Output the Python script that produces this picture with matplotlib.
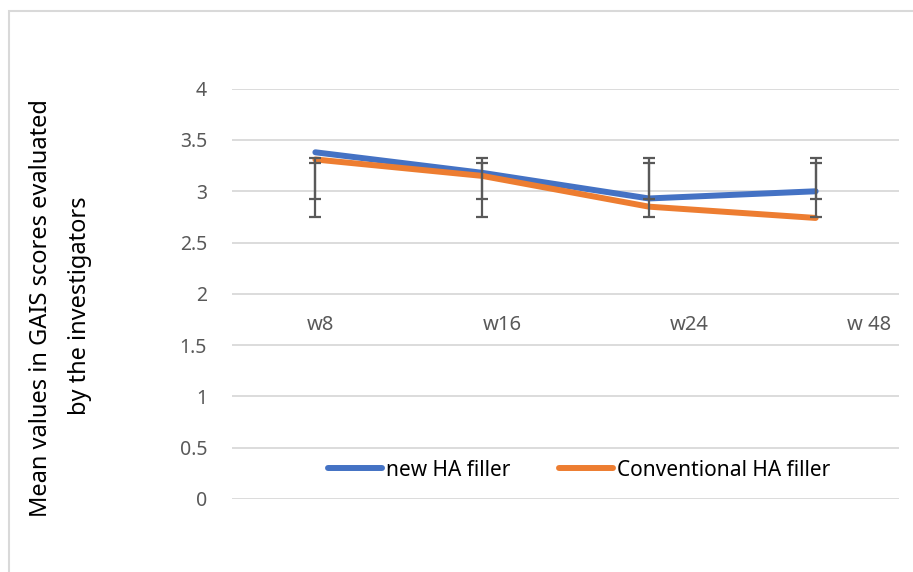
import matplotlib.pyplot as plt
from matplotlib.patches import Rectangle

# Mean GAIS scores per visit
weeks = ['w8', 'w16', 'w24', 'w 48']
new_ha = [3.38, 3.18, 2.93, 3.00]
conventional_ha = [3.31, 3.15, 2.85, 2.74]

# Error bar ends (same for every visit)
new_err_low = [2.92, 2.92, 2.92, 2.92]
new_err_high = [3.28, 3.28, 3.28, 3.28]
conv_err_low = [2.75, 2.75, 2.75, 2.75]
conv_err_high = [3.32, 3.32, 3.32, 3.32]

# where the week labels sit along the category axis
label_pos = [0.03, 1.12, 2.24, 3.32]

blue = '#4472C4'
orange = '#ED7D31'
grey_txt = '#595959'

plt.rcParams['font.family'] = ['Noto Sans', 'DejaVu Sans']

fig = plt.figure(figsize=(9.13, 5.72), dpi=100)
ax = fig.add_axes([232/913, 73/572, 667/913, 410.3/572])

x = list(range(len(weeks)))
ax.plot(x, new_ha, color=blue, lw=4.3, solid_capstyle='round', label='new HA filler', zorder=3)
ax.plot(x, conventional_ha, color=orange, lw=4.3, solid_capstyle='round',
        label='Conventional HA filler', zorder=3)

for lo, hi in [(new_err_low, new_err_high), (conv_err_low, conv_err_high)]:
    mid = [(a + b) / 2 for a, b in zip(lo, hi)]
    half = [(b - a) / 2 for a, b in zip(lo, hi)]
    ax.errorbar(x, mid, yerr=half, fmt='none', ecolor=grey_txt, elinewidth=1.6,
                capsize=4.5, capthick=1.6, zorder=4)

ax.set_xlim(-0.5, 3.5)
ax.set_ylim(0, 4)
ax.set_yticks([0, 0.5, 1, 1.5, 2, 2.5, 3, 3.5, 4])
ax.set_yticklabels(['0', '0.5', '1', '1.5', '2', '2.5', '3', '3.5', '4'])
ax.tick_params(axis='y', length=0, pad=18, labelsize=14, labelcolor=grey_txt)
ax.set_xticks([])
ax.grid(axis='y', color='#D9D9D9', lw=1.3, zorder=0)
for s in ax.spines.values():
    s.set_visible(False)

for p, w in zip(label_pos, weeks):
    ax.text(p, 1.70, w, ha='center', va='center', fontsize=14.5, color=grey_txt)

ax.legend(loc='center', bbox_to_anchor=(579/913, 102/572), bbox_transform=fig.transFigure,
          ncol=2, frameon=False, fontsize=15, handlelength=2.6, handletextpad=0.2,
          columnspacing=2.3)

fig.text(41/913, 1 - 308/572, 'Mean values in GAIS scores evaluated', rotation=90,
         ha='center', va='center', fontsize=17)
fig.text(80/913, 1 - 306/572, 'by the investigators', rotation=90,
         ha='center', va='center', fontsize=17)

# chart area border
fig.patches.append(Rectangle((8.5/913, -0.1), 1.2, 1 - 11/572 + 0.1, transform=fig.transFigure,
                             fill=False, edgecolor='#D9D9D9', lw=1.5))

fig.savefig('out.png', dpi=100, facecolor='white')
